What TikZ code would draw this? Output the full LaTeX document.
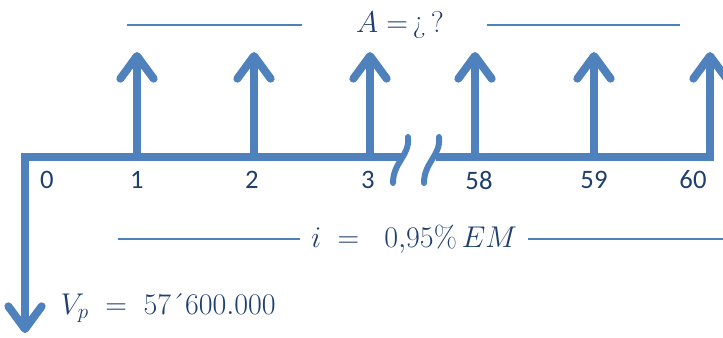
\documentclass[tikz,border=0pt]{standalone}
\usepackage{fix-cm}
\usepackage{fontspec}
\newfontfamily\calibri{Carlito}
\usetikzlibrary{arrows.meta}
\definecolor{lineblue}{HTML}{4F81BD}
\definecolor{textblue}{HTML}{1F3F6E}

\begin{document}
\begin{tikzpicture}[
      x=0.75pt, y=-0.75pt,
      tip/.tip = {Straight Barb[length=17pt, width=25pt, round]},
      flow/.style = {draw=lineblue, line width=6pt, -tip},
      brk/.style = {draw=lineblue, line width=4.5pt, line cap=round},
      guide/.style = {draw=lineblue, line width=1.5pt},
      period/.style = {text=textblue, font=\calibri\fontsize{20}{24}\selectfont},
      eqn/.style = {text=textblue, font=\fontsize{22.5}{27}\selectfont}
    ]
      \useasboundingbox (0,0) rectangle (723,337);

      % --- time line ---
      \coordinate (o) at (25,157);
      \coordinate (d) at (25,333);
      \coordinate (b1) at (403,157);
      \coordinate (b2) at (436,157);
      \coordinate (t60) at (710,157);
      \coordinate (a60) at (710,52);

      \draw [flow] (b1) -- (o) -- (d);
      \draw [flow] (b2) -- (t60) -- (a60);

      % break marks
      \draw [brk] (408,137) .. controls (410,156) and (393,162) .. (393,183);
      \draw [brk] (439,137) .. controls (441,156) and (424,162) .. (424,183);

      % payments
      \foreach \n/\x in {1/137, 2/254, 3/370, 58/475, 59/594} {
        \coordinate (t\n) at (\x,157);
        \coordinate (a\n) at (\x,52);
        \draw [flow] (t\n) -- (a\n);
      }

      % period numbers
      \foreach \n/\x in {0/47, 1/137, 2/252, 3/368, 58/479, 59/594, 60/693}
        \node [period] (n\n) at (\x,180) {\n};

      % --- annuity ---
      \node [eqn] (ann) at (400,25) {$A=$\,¿\,?};
      \coordinate (g1) at (127,25);
      \coordinate (g2) at (302,25);
      \coordinate (g3) at (487,25);
      \coordinate (g4) at (680,25);
      \draw [guide] (g1) -- (g2);
      \draw [guide] (g3) -- (g4);

      % --- rate ---
      \node [eqn] (rate) at (414,239) {$i\;=\;\;0{,}95\%\,EM$};
      \coordinate (r1) at (118,239);
      \coordinate (r2) at (300,239);
      \coordinate (r3) at (528,239);
      \coordinate (r4) at (723,239);
      \draw [guide] (r1) -- (r2);
      \draw [guide] (r3) -- (r4);

      % --- present value ---
      \node [eqn, anchor=west] (vp) at (56,308) {$V_p\;=\;57$´$600.000$};

    \end{tikzpicture}
\end{document}
